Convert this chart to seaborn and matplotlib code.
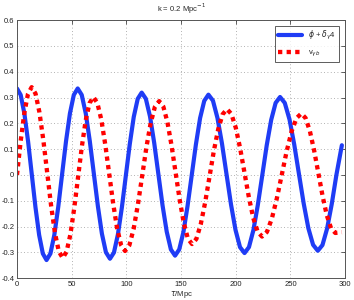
import pandas as pd
import seaborn as sns
import matplotlib.pyplot as plt

# values (tau in Mpc)
tau_phi = [0, 3.38, 6.75, 10.13, 13.5, 16.88, 20.25, 23.63,
           27, 30.56, 34.13, 37.69, 41.25, 44.81, 48.38, 51.94,
           55.5, 59.19, 62.88, 66.56, 70.25, 73.94, 77.63, 81.31,
           85, 88.63, 92.25, 95.88, 99.5, 103.13, 106.75, 110.38,
           114, 117.81, 121.63, 125.44, 129.25, 133.06, 136.88, 140.69,
           144.5, 148.31, 152.13, 155.94, 159.75, 163.56, 167.38, 171.19,
           175, 179.13, 183.25, 187.38, 191.5, 195.63, 199.75, 203.88,
           208, 212.06, 216.13, 220.19, 224.25, 228.31, 232.38, 236.44,
           240.5, 244.81, 249.13, 253.44, 257.75, 262.06, 266.38, 270.69,
           275, 279.25, 283.5, 287.75, 292, 297]
phi_delta = [0.335, 0.310, 0.238, 0.130, 0.003, -0.125, -0.233, -0.305,
             -0.330, -0.305, -0.233, -0.125, 0.003, 0.130, 0.238, 0.310,
             0.335, 0.310, 0.238, 0.131, 0.005, -0.121, -0.228, -0.300,
             -0.325, -0.301, -0.231, -0.126, -0.003, 0.120, 0.225, 0.295,
             0.319, 0.295, 0.226, 0.124, 0.003, -0.118, -0.220, -0.289,
             -0.313, -0.289, -0.222, -0.120, -0.001, 0.118, 0.220, 0.287,
             0.311, 0.288, 0.221, 0.122, 0.004, -0.114, -0.213, -0.280,
             -0.303, -0.280, -0.214, -0.116, -0.001, 0.115, 0.213, 0.279,
             0.302, 0.279, 0.215, 0.118, 0.004, -0.110, -0.207, -0.271,
             -0.294, -0.272, -0.208, -0.113, 0.000, 0.115]

tau_v = [0, 3.35, 6.7, 10.05,
         13.4, 16.95, 20.5, 24.05, 27.6, 31.15, 34.7, 38.25,
         41.8, 45.3, 48.8, 52.3, 55.8, 59.3, 62.8, 66.3,
         69.8, 73.43, 77.05, 80.68, 84.3, 87.93, 91.55, 95.18,
         98.8, 102.7, 106.6, 110.5, 114.4, 118.3, 122.2, 126.1,
         130, 133.75, 137.5, 141.25, 145, 148.75, 152.5, 156.25,
         160, 164, 168, 172, 176, 180, 184, 188,
         192, 196, 200, 204, 208, 212, 216, 220,
         224, 228.5, 233, 237.5, 242, 246.5, 251, 255.5,
         260, 263.88, 267.75, 271.63, 275.5, 279.38, 283.25, 287.13, 291, 297]
v_gb = [0.000, 0.130, 0.240, 0.314,
        0.340, 0.315, 0.243, 0.136, 0.009, -0.118, -0.225, -0.297,
        -0.322, -0.298, -0.231, -0.130, -0.010, 0.110, 0.211, 0.278,
        0.302, 0.279, 0.215, 0.118, 0.004, -0.111, -0.208, -0.272,
        -0.295, -0.273, -0.210, -0.116, -0.005, 0.107, 0.201, 0.264,
        0.286, 0.265, 0.205, 0.115, 0.009, -0.097, -0.187, -0.247,
        -0.268, -0.248, -0.191, -0.107, -0.007, 0.094, 0.178, 0.235,
        0.255, 0.236, 0.183, 0.103, 0.008, -0.087, -0.167, -0.220,
        -0.239, -0.221, -0.169, -0.092, -0.001, 0.091, 0.168, 0.220,
        0.238, 0.220, 0.170, 0.095, 0.007, -0.082, -0.157, -0.207, -0.225, -0.222]

df_phi = pd.DataFrame({"tau": tau_phi, "val": phi_delta})
df_v = pd.DataFrame({"tau": tau_v, "val": v_gb})

sns.set_style("whitegrid")
plt.rcParams["font.family"] = ["Liberation Sans", "DejaVu Sans"]
plt.rcParams["mathtext.fontset"] = "dejavusans"

fig = plt.figure(figsize=(3.54, 3.0), dpi=100)
ax = fig.add_axes([0.048, 0.073, 0.927, 0.86])

sns.lineplot(data=df_phi, x="tau", y="val", ax=ax, color="#1f3cf5", lw=3.0,
             label=r"$\phi$ + $\delta_\gamma$4")
sns.lineplot(data=df_v, x="tau", y="val", ax=ax, color="#ff0000", lw=3.1,
             linestyle=(0, (1, 1)), label=r"v$_{\gamma b}$")

ax.set(xlim=(0, 300), ylim=(-0.4, 0.6))
ax.set_xticks([0, 50, 100, 150, 200, 250, 300])
ax.set_yticks([-0.4, -0.3, -0.2, -0.1, 0, 0.1, 0.2, 0.3, 0.4, 0.5, 0.6])
ax.set_yticklabels(["-0.4", "-0.3", "-0.2", "-0.1", "0", "0.1", "0.2", "0.3", "0.4", "0.5", "0.6"])
ax.tick_params(labelsize=5.5, direction="in", length=3, width=0.5, top=True, right=True,
               pad=2, colors="#222222")
ax.grid(True, linestyle=(0, (1, 3)), color="#999999", lw=0.6)
for s in ax.spines.values():
    s.set_color("#555555")
    s.set_linewidth(0.7)

ax.set_title(r"k = 0.2 Mpc$^{-1}$", fontsize=5.5, pad=6)
ax.set_xlabel(r"$\tau$/Mpc", fontsize=5.5, labelpad=1)
ax.set_ylabel("")

leg = ax.legend(loc="upper right", fontsize=5.5, frameon=True, fancybox=False,
                handlelength=3.2, borderaxespad=0.8, labelspacing=0.9)
leg.get_frame().set_edgecolor("#333333")
leg.get_frame().set_linewidth(0.7)

fig.savefig("out.png", dpi=100)
